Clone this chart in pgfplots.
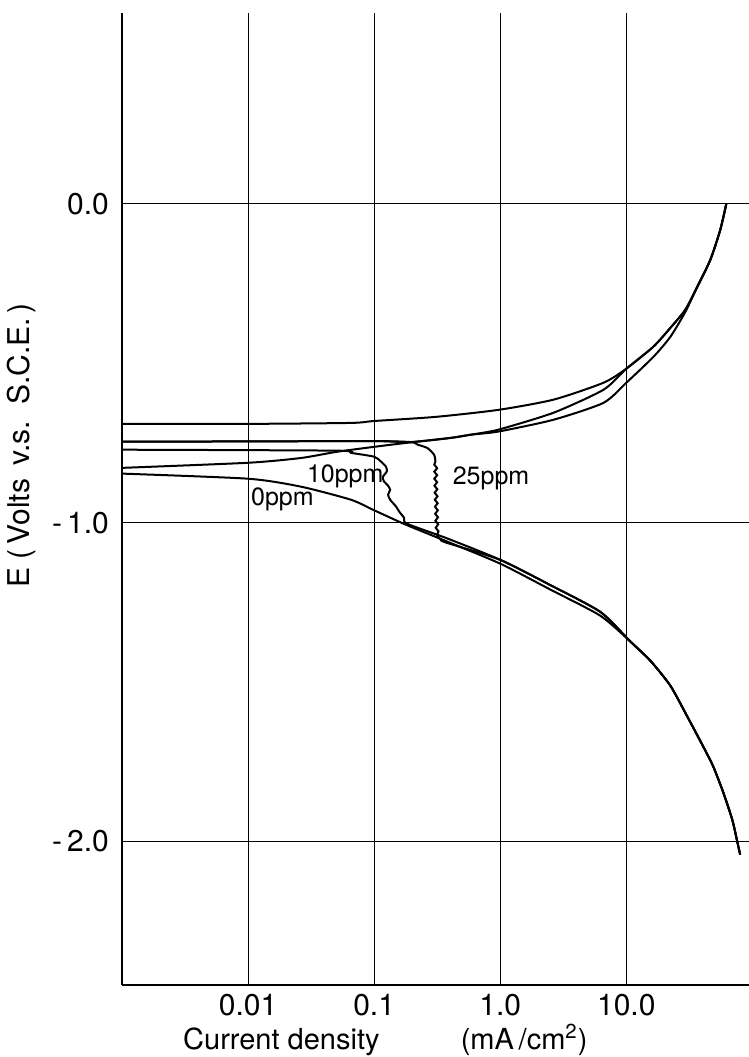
\documentclass[border=0pt]{standalone}
\usepackage{fontspec}
\setmainfont{TeX Gyre Heros}
\usepackage{pgfplots}
\pgfplotsset{compat=1.18}

\begin{document}
\begin{tikzpicture}
\begin{axis}[
  name=ax,
  scale only axis,
  width=313.5pt, height=486.2pt,
  xmode=log,
  xmin=0.001, xmax=94,
  ymin=-2.45, ymax=0.6,
  axis x line*=bottom, axis y line*=left,
  axis line style={line width=0.6pt},
  xtick={0.01,0.1,1,10},
  xticklabels={0.01,0.1,1.0,10.0},
  ytick={-2,-1,0},
  yticklabels={-\,2.0,-\,1.0,0.0},
  xminorticks=false, yminorticks=false,
  major tick length=0pt,
  grid=major,
  major grid style={black, line width=0.5pt},
  tick label style={font=\fontsize{15}{18}\selectfont},
  xticklabel style={anchor=base, yshift=-15.5pt},
  yticklabel style={xshift=-3pt},
  xlabel={Current density\hspace{2.8em}(mA\,/cm\textsuperscript{2})},
  xlabel style={font=\fontsize{14.5}{17}\selectfont, at={(axis description cs:0.42,0)}, anchor=base, inner sep=0pt, yshift=-32pt},
  ylabel={E (\,Volts\, v.s.\, S.C.E.\,)},
  ylabel style={font=\fontsize{15}{18}\selectfont, at={(axis description cs:-0.16,0.555)}, anchor=center},
  curve/.style={black, no markers, line width=1pt, smooth, tension=0.4},
]
% anodic branches
\addplot[curve] coordinates {(0.001,-0.690) (0.01,-0.690) (0.0655,-0.687) (0.1,-0.681) (0.309,-0.668) (0.970,-0.646) (2.649,-0.614) (6.592,-0.561) (10,-0.517) (16.39,-0.448) (22.35,-0.389) (29.38,-0.332) (36.56,-0.260) (46.34,-0.176) (55.59,-0.082) (62.09,0.0)};
\addplot[curve] coordinates {(0.001,-0.746) (0.01,-0.745) (0.1,-0.744) (0.195,-0.747) (0.405,-0.734) (0.583,-0.724) (0.970,-0.708) (2.649,-0.655) (6.592,-0.583) (10,-0.517) (16.39,-0.448) (22.35,-0.389) (29.38,-0.332) (36.56,-0.260) (46.34,-0.176) (55.59,-0.082) (62.09,0.0)};
\addplot[curve] coordinates {(0.001,-0.828) (0.01,-0.812) (0.0263,-0.797) (0.0498,-0.778) (0.1,-0.762) (0.195,-0.748) (0.405,-0.734) (0.583,-0.724) (0.970,-0.714) (2.649,-0.677) (6.592,-0.624) (10,-0.561) (16.39,-0.480) (22.35,-0.417) (29.38,-0.339) (36.56,-0.260) (46.34,-0.176) (55.59,-0.082) (62.09,0.0)};
% cathodic branches
\addplot[curve] coordinates {(0.001,-0.846) (0.01,-0.862) (0.0263,-0.887) (0.0655,-0.928) (0.1,-0.961) (0.178,-1.006) (0.384,-1.060) (1.007,-1.129) (2.506,-1.210) (6.237,-1.292) (10.79,-1.373) (15.52,-1.433) (22.34,-1.511) (30.48,-1.608) (40.74,-1.702) (48.98,-1.765) (58.75,-1.846) (69.18,-1.931) (75.86,-2.0) (79.98,-2.041)};
\addplot[curve] coordinates {(0.001,-0.771) (0.0498,-0.774) (0.0655,-0.781) (0.1,-0.793) (0.113,-0.808) (0.124,-0.824) (0.126,-0.839) (0.117,-0.857) (0.120,-0.871) (0.129,-0.884) (0.134,-0.897) (0.129,-0.912) (0.134,-0.928) (0.149,-0.949) (0.158,-0.965) (0.173,-0.985) (0.182,-1.003) (0.384,-1.050) (1.007,-1.117) (2.506,-1.196) (6.237,-1.280) (10.79,-1.373) (15.52,-1.433) (22.34,-1.511) (30.48,-1.608) (40.74,-1.702) (48.98,-1.765) (58.75,-1.846) (69.18,-1.931) (75.86,-2.0) (79.98,-2.041)};
\addplot[curve] coordinates {(0.001,-0.746) (0.01,-0.745) (0.1,-0.744) (0.195,-0.747) (0.221,-0.755) (0.265,-0.766) (0.299,-0.787) (0.306,-0.808)
 (0.300,-0.818) (0.316,-0.829) (0.300,-0.840) (0.316,-0.851) (0.300,-0.862) (0.316,-0.873) (0.301,-0.884) (0.317,-0.895) (0.302,-0.906) (0.318,-0.917) (0.303,-0.928) (0.319,-0.939) (0.304,-0.950) (0.320,-0.961) (0.305,-0.972) (0.321,-0.983) (0.306,-0.994) (0.322,-1.005) (0.308,-1.016) (0.324,-1.027)
 (0.316,-1.038) (0.337,-1.053) (0.370,-1.062) (1.007,-1.117) (2.506,-1.196) (6.237,-1.280) (10.79,-1.373) (15.52,-1.433) (22.34,-1.511) (30.48,-1.608) (40.74,-1.702) (48.98,-1.765) (58.75,-1.846) (69.18,-1.931) (75.86,-2.0) (79.98,-2.041)};
\node[anchor=base west, font=\fontsize{12.5}{14}\selectfont] at (axis cs:0.0093,-0.947) {0ppm};
\node[anchor=base west, font=\fontsize{12.5}{14}\selectfont] at (axis cs:0.0258,-0.875) {10ppm};
\node[anchor=base west, font=\fontsize{12.5}{14}\selectfont] at (axis cs:0.370,-0.881) {25ppm};
\end{axis}
\pgfresetboundingbox
\path ([shift={(-61pt,-36pt)}]ax.south west) rectangle ++(374.5pt,528.5pt);
\end{tikzpicture}
\end{document}
